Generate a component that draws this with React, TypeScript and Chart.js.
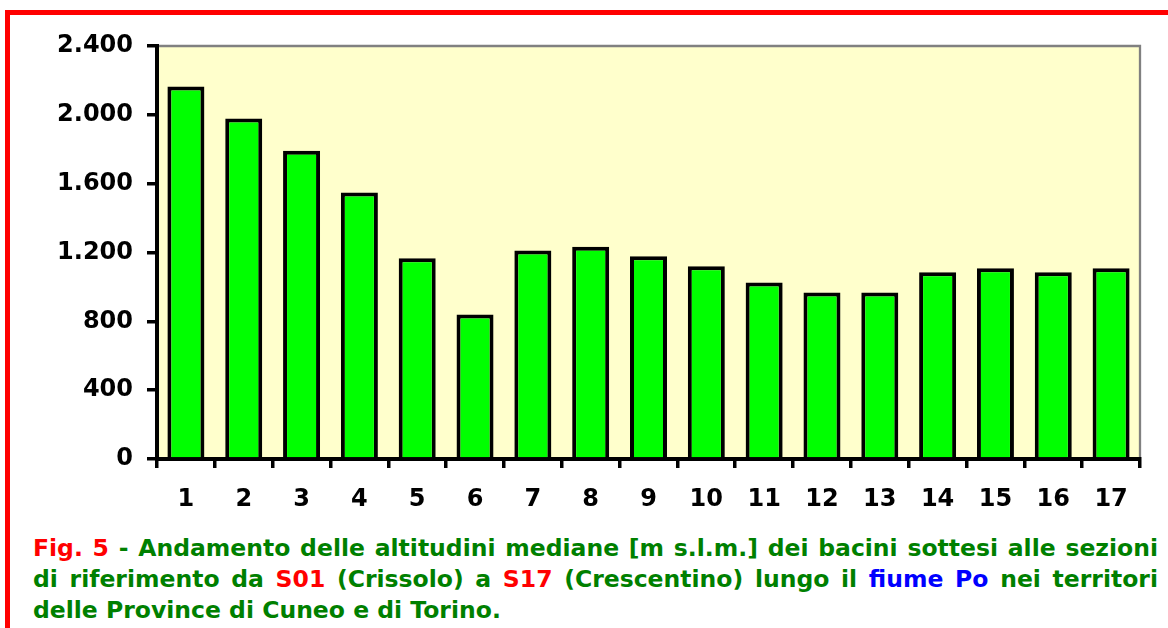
import React, { useEffect, useRef } from 'react';
import { Chart, registerables } from 'chart.js';

Chart.register(...registerables);

const categories = ['1', '2', '3', '4', '5', '6', '7', '8', '9', '10', '11', '12', '13', '14', '15', '16', '17'];
const altitudes = [2165, 1978, 1792, 1548, 1166, 839, 1211, 1234, 1178, 1120, 1025, 967, 967, 1085, 1108, 1085, 1108];
const yTickValues = [0, 400, 800, 1200, 1600, 2000, 2400];
const yTickLabels = ['0', '400', '800', '1.200', '1.600', '2.000', '2.400'];

const FONT = '"DejaVu Sans", Verdana, sans-serif';

const plotFrame = {
  id: 'plotFrame',
  beforeDraw(chart: any) {
    const { ctx, chartArea: a } = chart;
    ctx.save();
    ctx.fillStyle = '#FFFFCC';
    ctx.fillRect(a.left, a.top, a.right - a.left, a.bottom - a.top);
    ctx.restore();
  },
  afterDraw(chart: any) {
    const { ctx, chartArea: a } = chart;
    ctx.save();
    ctx.strokeStyle = '#808080';
    ctx.lineWidth = 2.3;
    ctx.beginPath();
    ctx.moveTo(a.left + 2, a.top);
    ctx.lineTo(a.right, a.top);
    ctx.lineTo(a.right, a.bottom - 2);
    ctx.stroke();
    ctx.restore();
  },
};

export default function App() {
  const canvasRef = useRef<HTMLCanvasElement | null>(null);

  useEffect(() => {
    const canvas = canvasRef.current;
    if (!canvas) return;
    const chart = new Chart(canvas, {
      type: 'bar',
      data: {
        labels: categories,
        datasets: [
          {
            data: altitudes,
            backgroundColor: '#00FF00',
            borderColor: '#000000',
            borderWidth: 4,
            categoryPercentage: 1,
            barPercentage: 0.64,
          },
        ],
      },
      options: {
        responsive: false,
        animation: false,
        devicePixelRatio: 1,
        layout: { padding: { top: 46, right: 28, left: 0, bottom: 0 } },
        plugins: {
          legend: { display: false },
          tooltip: { enabled: false },
          title: { display: false },
        },
        scales: {
          x: {
            offset: true,
            grid: {
              display: true,
              offset: true,
              drawOnChartArea: false,
              drawTicks: true,
              tickLength: 9,
              color: '#000000',
              lineWidth: 3.5,
            },
            border: { display: true, color: '#000000', width: 4 },
            ticks: {
              color: '#000000',
              padding: 17,
              maxRotation: 0,
              autoSkip: false,
              font: { family: FONT, size: 24, weight: 'bold' },
            },
            afterFit(scale: any) {
              scale.height = 61;
            },
          },
          y: {
            min: 0,
            max: 2400,
            afterBuildTicks(scale: any) {
              scale.ticks = yTickValues.map((v) => ({ value: v }));
            },
            grid: {
              display: true,
              drawOnChartArea: false,
              drawTicks: true,
              tickLength: 10,
              color: '#000000',
              lineWidth: 3.5,
            },
            border: { display: true, color: '#000000', width: 4 },
            ticks: {
              color: '#000000',
              padding: 14,
              font: { family: FONT, size: 24, weight: 'bold' },
              callback: (_v: any, i: number) => yTickLabels[i],
            },
            afterFit(scale: any) {
              scale.width = 157;
            },
          },
        },
      },
      plugins: [plotFrame],
    } as any);
    return () => chart.destroy();
  }, []);

  const green = '#008000';
  const red = '#FF0000';
  const blue = '#0000FF';
  const lineStyle: React.CSSProperties = {
    position: 'absolute',
    left: 33,
    width: 1125,
    height: 31,
    lineHeight: '31px',
    fontFamily: FONT,
    fontWeight: 'bold',
    fontSize: 23.5,
    color: green,
    whiteSpace: 'nowrap',
  };

  return (
    <div
      style={{
        position: 'fixed',
        left: 0,
        top: 0,
        width: 1168,
        height: 628,
        background: '#FFFFFF',
        overflow: 'hidden',
      }}
    >
      <div style={{ position: 'absolute', left: 5, top: 10, width: 1163, height: 5, background: '#FF0000' }} />
      <div style={{ position: 'absolute', left: 5, top: 10, width: 5, height: 618, background: '#FF0000' }} />
      <canvas
        ref={canvasRef}
        width={1168}
        height={520}
        style={{ position: 'absolute', left: 0, top: 0, width: 1168, height: 520 }}
      />
      <div style={{ ...lineStyle, top: 533, textAlign: 'justify', textAlignLast: 'justify' }}>
        <span style={{ color: red }}>Fig. 5</span> - Andamento delle altitudini mediane [m s.l.m.] dei bacini sottesi alle sezioni
      </div>
      <div style={{ ...lineStyle, top: 564, textAlign: 'justify', textAlignLast: 'justify' }}>
        di riferimento da <span style={{ color: red }}>S01</span> (Crissolo) a <span style={{ color: red }}>S17</span> (Crescentino) lungo il <span style={{ color: blue }}>fiume Po</span> nei territori
      </div>
      <div style={{ ...lineStyle, top: 595, textAlign: 'left' }}>
        delle Province di Cuneo e di Torino.
      </div>
    </div>
  );
}
